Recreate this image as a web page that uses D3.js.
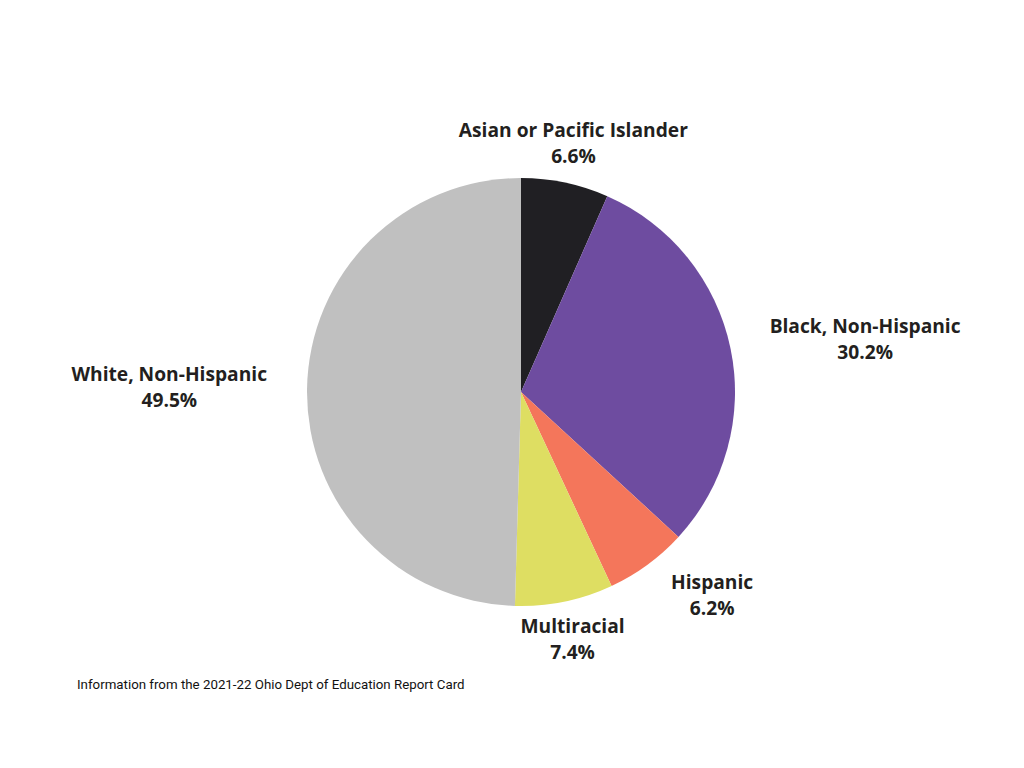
<!DOCTYPE html>
<html>
<head>
<meta charset="utf-8">
<script src="https://cdn.jsdelivr.net/npm/d3@7"></script>
<style>
  html, body { margin: 0; padding: 0; background: #ffffff; }
  svg { display: block; }
</style>
</head>
<body>
<svg id="chart" width="1024" height="768"></svg>
<script>
const categories = ["Asian or Pacific Islander", "Black, Non-Hispanic", "Hispanic", "Multiracial", "White, Non-Hispanic"];
const values = [6.6, 30.2, 6.2, 7.4, 49.5];
const valueLabels = ["6.6%", "30.2%", "6.2%", "7.4%", "49.5%"];
const colors = ["#201f23", "#6e4ca0", "#f4765b", "#dede62", "#c0c0c0"];
const footnote = "Information from the 2021-22 Ohio Dept of Education Report Card";

const svg = d3.select("#chart");
const cx = 521, cy = 392, radius = 214;
const labelRx = 254, labelRy = 232, boxH = 42;

const data = categories.map((c, i) => ({ cat: c, value: values[i], label: valueLabels[i], color: colors[i] }));

const pie = d3.pie().value(d => d.value).sort(null).startAngle(0).endAngle(2 * Math.PI);
const arc = d3.arc().innerRadius(0).outerRadius(radius);
const arcs = pie(data);

const g = svg.append("g").attr("transform", `translate(${cx},${cy})`);
g.selectAll("path").data(arcs).enter().append("path")
  .attr("d", arc)
  .attr("fill", d => d.data.color);

const lg = g.append("g")
  .attr("font-family", "'Open Sans', 'Noto Sans', sans-serif")
  .attr("font-weight", 700)
  .attr("font-size", 19.2)
  .attr("fill", "#231f20");

arcs.forEach(a => {
  const mid = (a.startAngle + a.endAngle) / 2;
  const s = Math.sin(mid), c = Math.cos(mid);
  const x = s * labelRx;
  const y0 = -c * labelRy;
  const yc = y0 - c * boxH / 2;
  let anchor = "middle";
  if (s > 0.5) anchor = "start";
  else if (s < -0.5) anchor = "end";
  const t = lg.append("text").attr("text-anchor", anchor).attr("x", x).attr("y", yc - 7).text(a.data.cat);
  const t2 = lg.append("text").attr("text-anchor", "middle").attr("y", yc + 19).text(a.data.label);
  const bb = t.node().getBBox();
  t2.attr("x", bb.x + bb.width / 2);
});

svg.append("text")
  .attr("x", 77).attr("y", 689)
  .attr("font-family", "Roboto, 'Liberation Sans', sans-serif")
  .attr("font-size", 13.3)
  .attr("fill", "#111")
  .text(footnote);
</script>
</body>
</html>
